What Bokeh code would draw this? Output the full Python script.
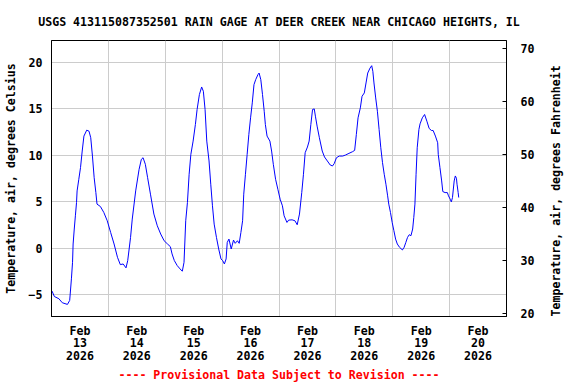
import math
from bokeh.plotting import figure
from bokeh.models import Range1d, LinearAxis, FixedTicker, Title
from bokeh.embed import file_html
from bokeh.resources import INLINE

chart_title = "USGS 413115087352501 RAIN GAGE AT DEER CREEK NEAR CHICAGO HEIGHTS, IL"
footer_text = "---- Provisional Data Subject to Revision ----"
left_label = "Temperature, air, degrees Celsius"
right_label = "Temperature, air, degrees Fahrenheit"

# days since 2026-02-13 00:00
day_offset = [
    0.01, 0.05, 0.13, 0.19, 0.28, 0.32, 0.35, 0.37, 0.38, 0.40, 0.42, 0.44, 0.45, 0.48, 0.51,
    0.54, 0.57, 0.62, 0.66, 0.69, 0.72, 0.75, 0.78, 0.80, 0.86, 0.92, 0.98, 1.04, 1.10, 1.16,
    1.21, 1.26, 1.31, 1.34, 1.39, 1.42, 1.48, 1.54, 1.58, 1.61, 1.65, 1.69, 1.74, 1.80, 1.86,
    1.92, 1.98, 2.04, 2.09, 2.12, 2.16, 2.21, 2.26, 2.30, 2.33, 2.36, 2.39, 2.42, 2.45, 2.49,
    2.53, 2.56, 2.60, 2.64, 2.67, 2.70, 2.73, 2.77, 2.80, 2.83, 2.86, 2.90, 2.94, 2.98,
    3.01, 3.04, 3.07, 3.09, 3.12, 3.16, 3.20, 3.23, 3.27, 3.30, 3.33, 3.36, 3.38, 3.41, 3.44,
    3.47, 3.50, 3.53, 3.56, 3.59, 3.63, 3.65, 3.68, 3.71, 3.74, 3.76, 3.79, 3.84, 3.87, 3.90,
    3.94, 3.98, 4.02, 4.06, 4.09, 4.14, 4.17, 4.23, 4.28, 4.32, 4.36, 4.40, 4.43, 4.46, 4.50,
    4.53, 4.56, 4.59, 4.62, 4.64, 4.67, 4.71, 4.76, 4.80, 4.85, 4.90, 4.94, 4.97, 5.01, 5.06,
    5.12, 5.17, 5.23, 5.29, 5.33, 5.36, 5.39, 5.43, 5.46, 5.50, 5.53, 5.56, 5.60, 5.63, 5.65,
    5.67, 5.70, 5.73, 5.76, 5.79, 5.82, 5.85, 5.88, 5.91, 5.93, 5.96, 5.99, 6.02, 6.05, 6.08,
    6.12, 6.17, 6.20, 6.23, 6.26, 6.29, 6.32, 6.35, 6.37, 6.39, 6.41, 6.43, 6.46, 6.48, 6.52,
    6.56, 6.60, 6.64, 6.68, 6.71, 6.75, 6.79, 6.80, 6.83, 6.86, 6.88, 6.92, 6.96, 6.98, 7.01,
    7.03, 7.05, 7.08, 7.10, 7.12, 7.13, 7.15, 7.16,
]
temp_c = [
    -4.6, -5.18, -5.42, -5.85, -6.03, -5.6, -3.28, -1.5, 0.47, 2.08, 3.5, 4.93, 6.18, 7.43, 8.68,
    10.47, 12.08, 12.72, 12.6, 11.9, 9.93, 7.6, 6.0, 4.76, 4.5, 3.86, 2.97, 1.71, 0.47, -0.96,
    -1.75, -1.68, -2.1, -1.32, 1.18, 3.15, 6.18, 8.5, 9.58, 9.75, 9.04, 7.6, 5.83, 3.69, 2.43,
    1.54, 0.82, 0.47, 0.18, -0.6, -1.32, -1.85, -2.21, -2.46, -1.5, 2.97, 4.93, 7.97, 10.11, 11.54,
    13.33, 14.94, 16.54, 17.36, 16.9, 14.94, 11.54, 9.4, 6.9, 4.58, 2.61, 1.18, -0.07, -1.14,
    -1.32, -1.68, -1.14, 0.64, 1.0, -0.07, 0.89, 0.54, 0.82, 0.54, 1.71, 2.97, 5.83, 7.97, 10.11,
    12.26, 14.04, 15.65, 17.61, 18.15, 18.69, 18.86, 18.15, 16.54, 14.75, 13.33, 12.08, 11.54, 10.47, 9.04,
    7.43, 6.36, 5.29, 4.58, 3.5, 2.79, 3.04, 3.07, 2.97, 2.54, 3.69, 6.0, 7.97, 10.29, 10.9,
    11.54, 13.33, 14.94, 15.0, 14.22, 13.15, 11.9, 10.47, 9.83, 9.4, 8.97, 8.86, 9.11, 9.75, 9.93,
    9.93, 10.04, 10.22, 10.39, 10.54, 12.26, 14.04, 15.11, 16.36, 16.72, 17.79, 18.86, 19.39, 19.65, 19.04,
    17.79, 16.18, 14.75, 12.79, 10.82, 9.22, 7.97, 6.9, 5.65, 4.76, 3.86, 2.79, 1.9, 1.0, 0.47,
    0.11, -0.17, 0.11, 0.64, 1.18, 1.47, 1.36, 2.08, 3.32, 4.76, 7.97, 10.82, 12.79, 13.39, 14.04,
    14.4, 13.68, 12.9, 12.68, 12.68, 12.08, 11.36, 10.11, 8.68, 7.25, 6.11, 6.0, 6.0, 5.65, 5.29,
    5.0, 5.47, 7.25, 7.79, 7.54, 6.9, 6.0, 5.47,
]

day_label_pos = [0.5, 1.5, 2.5, 3.5, 4.5, 5.5, 6.5, 7.5]
day_labels = ["Feb\n13\n2026", "Feb\n14\n2026", "Feb\n15\n2026", "Feb\n16\n2026",
              "Feb\n17\n2026", "Feb\n18\n2026", "Feb\n19\n2026", "Feb\n20\n2026"]
day_bounds = [1, 2, 3, 4, 5, 6, 7]
c_ticks = [-5, 0, 5, 10, 15, 20]
f_ticks = [20, 30, 40, 50, 60, 70]

FONT = "DejaVu Sans Mono"
FS = "11.6px"
GRID = "#cccccc"
W, H = 576, 384

p = figure(width=W, height=H, output_backend="svg", toolbar_location=None,
           x_range=Range1d(0, 8), y_range=Range1d(-7.33, 22.36),
           min_border_left=51, min_border_right=70, min_border_top=40, min_border_bottom=68)
p.extra_y_ranges = {"F": Range1d(19.49, 71.44)}
p.background_fill_color = "white"
p.border_fill_color = "white"
p.outline_line_color = "black"
p.outline_line_alpha = 1.0
p.outline_line_width = 1

p.line(day_offset, temp_c, line_color="#0000ff", line_width=1)

# title
p.title.text = chart_title
p.title.align = "center"
p.title.text_font = FONT
p.title.text_font_size = FS
p.title.text_font_style = "bold"
p.title.text_color = "black"
p.title.standoff = 23

# x axis
xa = p.xaxis[0]
xa.ticker = FixedTicker(ticks=day_label_pos)
xa.major_label_overrides = {pos: lab for pos, lab in zip(day_label_pos, day_labels)}
xa.major_tick_out = 0
xa.major_tick_in = 0
xa.minor_tick_out = 0
xa.minor_tick_in = 0
xa.major_label_standoff = 7
xa.major_label_text_font = FONT
xa.major_label_text_font_size = FS
xa.major_label_text_font_style = "bold"
xa.major_label_text_color = "black"
xa.major_label_text_line_height = 0.9
xa.axis_line_color = "black"

# left axis
ya = p.yaxis[0]
ya.ticker = FixedTicker(ticks=c_ticks)
ya.major_tick_out = 0
ya.major_tick_in = 0
ya.minor_tick_out = 0
ya.minor_tick_in = 0
ya.major_label_standoff = 9
ya.major_label_text_font = FONT
ya.major_label_text_font_size = FS
ya.major_label_text_font_style = "bold"
ya.major_label_text_color = "black"
ya.axis_label = left_label
ya.axis_label_standoff = 8
ya.axis_label_text_font = FONT
ya.axis_label_text_font_size = FS
ya.axis_label_text_font_style = "bold"
ya.axis_label_text_color = "black"
ya.axis_line_color = "black"

# right axis (Fahrenheit), label reading bottom-to-top from the lower end
ra = LinearAxis(y_range_name="F", ticker=FixedTicker(ticks=f_ticks))
ra.major_tick_out = 0
ra.major_tick_in = 4
ra.minor_tick_out = 0
ra.minor_tick_in = 0
ra.major_label_standoff = 14
ra.major_label_text_font = FONT
ra.major_label_text_font_size = FS
ra.major_label_text_font_style = "bold"
ra.major_label_text_color = "black"
ra.axis_label = right_label
ra.axis_label_orientation = math.pi / 2
ra.axis_label_align = "start"
ra.axis_label_standoff = 19
ra.axis_label_text_font = FONT
ra.axis_label_text_font_size = FS
ra.axis_label_text_font_style = "bold"
ra.axis_label_text_color = "black"
ra.axis_line_color = "black"
p.add_layout(ra, "right")

# grids
p.xgrid.ticker = FixedTicker(ticks=day_bounds)
p.ygrid.ticker = FixedTicker(ticks=c_ticks)
p.xgrid.grid_line_color = GRID
p.ygrid.grid_line_color = GRID
p.xgrid.grid_line_width = 1
p.ygrid.grid_line_width = 1

# footer
p.add_layout(Title(text=footer_text, align="center", text_color="red", text_font=FONT,
                   text_font_size=FS, text_font_style="bold", standoff=1), "below")

open("out.html", "w").write(file_html(p, INLINE))
